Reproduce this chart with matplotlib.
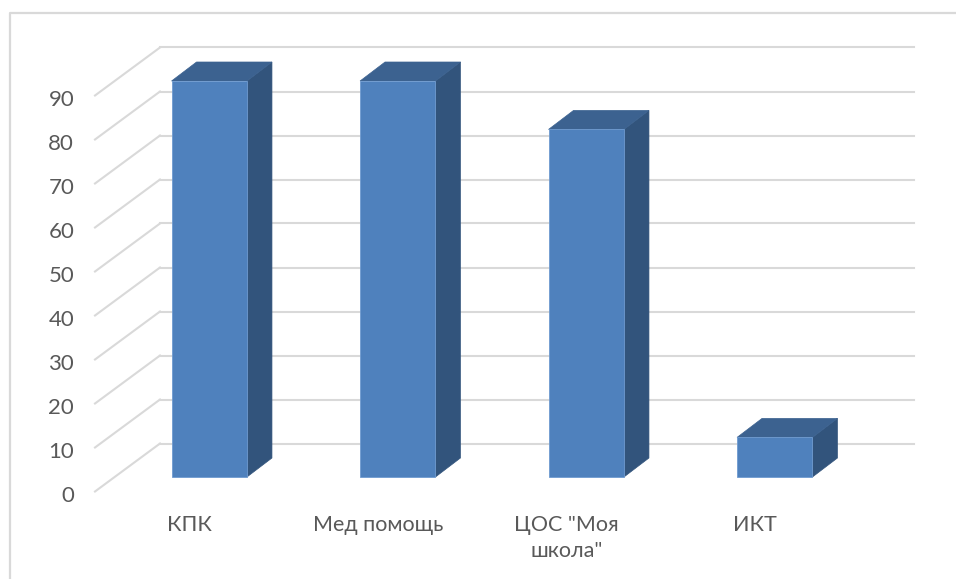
import matplotlib
matplotlib.use('Agg')
import matplotlib.pyplot as plt
from matplotlib.lines import Line2D
from matplotlib.patches import Polygon
from matplotlib.transforms import Affine2D

plt.rcParams['font.family'] = ['Lato', 'Open Sans', 'DejaVu Sans']

categories = ['КПК', 'Мед помощь', 'ЦОС "Моя\nшкола"', 'ИКТ']
values = [90, 90, 79, 9]
y_ticks = [0, 10, 20, 30, 40, 50, 60, 70, 80, 90]

W, H = 956, 579
fig = plt.figure(figsize=(W / 100, H / 100), dpi=100, facecolor='white')

# front plane of the 3d box, everything else is shifted from here in pixels
ax = fig.add_axes([95 / W, 1 - 491.5 / H, 754 / W, 396 / H])
ax.set_xlim(-0.5, 3.5)
ax.set_ylim(0, 90)
ax.patch.set_visible(False)
for s in ax.spines.values():
    s.set_visible(False)


def shifted(dx, dy):
    return ax.transData + Affine2D().translate(dx, dy)


# outer chart border
border = '#d9d9d9'
fig.add_artist(Line2D([9.5 / W, 9.5 / W, 1], [0, 1 - 12.5 / H, 1 - 12.5 / H], color=border, lw=1.6))

# gridlines: side diagonal then along the back wall
grid_col = '#d9d9d9'
for v in y_ticks:
    diag = Line2D([0, 65], [0, 48], color=grid_col, lw=1.5,
                  transform=Affine2D().translate(*ax.transData.transform((-0.5, v))), zorder=1)
    ax.add_artist(diag)
    diag.set_clip_on(False)
    ax.plot([-0.5, 3.5], [v, v], color=grid_col, lw=1.5, transform=shifted(65, 48),
            clip_on=False, zorder=1)

# 3d bars
face_col = '#4f81bd'
top_col = '#3c6290'
side_col = '#32547c'
half = 0.2
fx, fy = 20, 14.5
bx, by = 45, 33.5
for i, v in enumerate(values):
    l, r = i - half, i + half
    p0 = ax.transData.transform((l, 0))
    p1 = ax.transData.transform((r, v))
    x0, y0 = p0[0] + fx, p0[1] + fy
    x1, y1 = p1[0] + fx, p1[1] + fy
    dx, dy = bx - fx, by - fy
    ax.add_patch(Polygon([(x1, y0), (x1 + dx, y0 + dy), (x1 + dx, y1 + dy), (x1, y1)],
                         transform=None, fc=side_col, ec=side_col, lw=0.5, zorder=3, clip_on=False))
    ax.add_patch(Polygon([(x0, y1), (x1, y1), (x1 + dx, y1 + dy), (x0 + dx, y1 + dy)],
                         transform=None, fc=top_col, ec=top_col, lw=0.5, zorder=3, clip_on=False))
    ax.add_patch(Polygon([(x0, y0), (x1, y0), (x1, y1), (x0, y1)],
                         transform=None, fc=face_col, ec='#6f9bd0', lw=0.6, zorder=4, clip_on=False))

ax.set_yticks(y_ticks)
ax.set_xticks(range(len(categories)))
ax.set_xticklabels(categories, linespacing=1.35)
ax.tick_params(axis='y', length=0, pad=15, labelsize=16, labelcolor='#595959')
ax.tick_params(axis='x', length=0, pad=17, labelsize=15.5, labelcolor='#595959')

# value labels sit a little below their gridline ends
for lab in ax.get_yticklabels():
    lab.set_transform(lab.get_transform() + Affine2D().translate(0, -3))

fig.savefig('out.png', dpi=100)
